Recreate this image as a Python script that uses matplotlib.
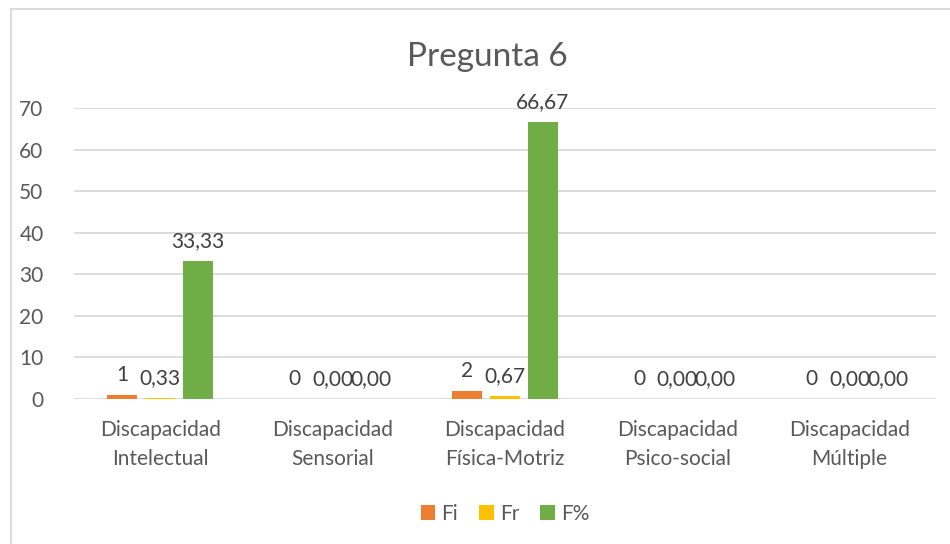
import matplotlib
matplotlib.use("Agg")
import matplotlib.pyplot as plt
from matplotlib.lines import Line2D
import numpy as np

plt.rcParams['font.family'] = ['Lato', 'DejaVu Sans']

# datos
categorias = ["Discapacidad\nIntelectual", "Discapacidad\nSensorial",
              "Discapacidad\nFísica-Motriz", "Discapacidad\nPsico-social",
              "Discapacidad\nMúltiple"]
fi = [1, 0, 2, 0, 0]
fr = [0.33, 0.00, 0.67, 0.00, 0.00]
fp = [33.33, 0.00, 66.67, 0.00, 0.00]
series = ["Fi", "Fr", "F%"]
colores = ["#ED7D31", "#FFC000", "#70AD47"]
yticks = [0, 10, 20, 30, 40, 50, 60, 70]

fig = plt.figure(figsize=(9.5, 5.44), dpi=100)
ax = fig.add_axes([0.078, 0.2665, 0.907, 0.5345])

x = np.arange(len(categorias))
ancho = 0.174
paso = 0.22
gris = "#595959"
fs = 15

valores = [fi, fr, fp]
for i, (vals, nombre, col) in enumerate(zip(valores, series, colores)):
    pos = x + (i - 1) * paso
    ax.bar(pos, vals, width=ancho, color=col, label=nombre, zorder=3)
    for p, v in zip(pos, vals):
        if nombre == "Fi":
            txt = str(v)
        else:
            txt = f"{v:.2f}".replace(".", ",")
        ax.annotate(txt, (p, v), xytext=(0, 7), textcoords="offset points",
                    ha="center", va="bottom", fontsize=fs, color="#404040")

ax.set_xlim(-0.5, len(categorias) - 0.5)
ax.set_ylim(0, 70)
ax.set_yticks(yticks)
ax.set_xticks(x)
ax.set_xticklabels(categorias, fontsize=fs, color=gris, linespacing=1.6)
ax.tick_params(axis="y", labelsize=fs, colors=gris, length=0, pad=22)
ax.tick_params(axis="x", length=0, pad=15)
ax.grid(axis="y", color="#D9D9D9", linewidth=1.3, zorder=0)
for s in ["top", "right", "left", "bottom"]:
    ax.spines[s].set_visible(False)

fig.text(0.513, 0.895, "Pregunta 6", ha="center", va="center",
         fontsize=24, color=gris)

ax.legend(loc="center", bbox_to_anchor=(0.5, -0.395), ncol=3, frameon=False,
          fontsize=fs, handlelength=0.7, handleheight=0.7, handletextpad=0.3,
          columnspacing=1.0, labelcolor=gris)

# borde del grafico
fig.add_artist(Line2D([10.5 / 950, 10.5 / 950], [0, 1 - 8.5 / 544],
                      transform=fig.transFigure, color="#D9D9D9", linewidth=1.3))
fig.add_artist(Line2D([10.5 / 950, 1], [1 - 8.5 / 544, 1 - 8.5 / 544],
                      transform=fig.transFigure, color="#D9D9D9", linewidth=1.3))

fig.savefig("out.png", dpi=100, facecolor="white")
